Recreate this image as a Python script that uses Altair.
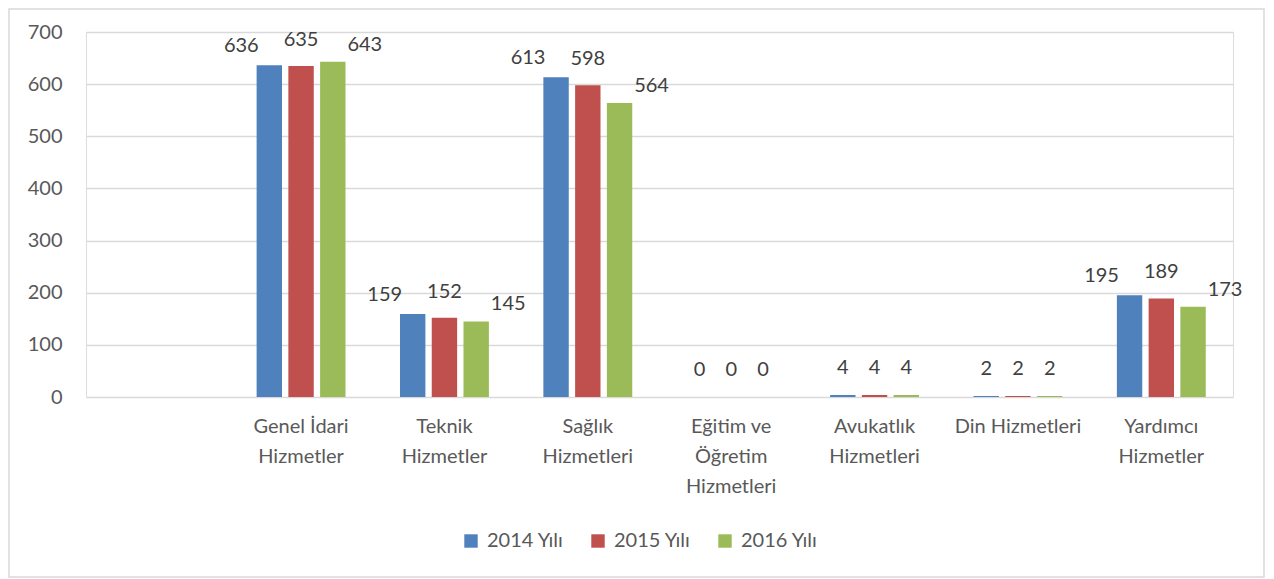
import altair as alt
import pandas as pd

categories = ["", "Genel İdari Hizmetler", "Teknik Hizmetler", "Sağlık Hizmetleri",
              "Eğitim ve Öğretim Hizmetleri", "Avukatlık Hizmetleri", "Din Hizmetleri",
              "Yardımcı Hizmetler"]
label_lines = {
    "Genel İdari Hizmetler": ["Genel İdari", "Hizmetler"],
    "Teknik Hizmetler": ["Teknik", "Hizmetler"],
    "Sağlık Hizmetleri": ["Sağlık", "Hizmetleri"],
    "Eğitim ve Öğretim Hizmetleri": ["Eğitim ve", "Öğretim", "Hizmetleri"],
    "Avukatlık Hizmetleri": ["Avukatlık", "Hizmetleri"],
    "Din Hizmetleri": ["Din Hizmetleri"],
    "Yardımcı Hizmetler": ["Yardımcı", "Hizmetler"],
}
series = ["2014 Yılı", "2015 Yılı", "2016 Yılı"]
values_2014 = [636, 159, 613, 0, 4, 2, 195]
values_2015 = [635, 152, 598, 0, 4, 2, 189]
values_2016 = [643, 145, 564, 0, 4, 2, 173]
colors = ["#4F81BD", "#C0504D", "#9BBB59"]

rows = []
for s, vals in zip(series, [values_2014, values_2015, values_2016]):
    for c, v in zip(categories[1:], vals):
        rows.append({"kategori": c, "seri": s, "deger": v})
df = pd.DataFrame(rows)

# label expression for multi-line axis labels
expr = "''"
for k, lines in reversed(list(label_lines.items())):
    arr = "[" + ",".join("'" + l + "'" for l in lines) + "]"
    expr = f"datum.value === '{k}' ? {arr} : ({expr})"

FONT = "Lato"
FS = 20
W, H = 1147, 365

x_enc = alt.X("kategori:N", scale=alt.Scale(domain=categories, paddingInner=0.38, paddingOuter=0.19),
              axis=alt.Axis(title=None, labelExpr=expr, labelAngle=0, labelFontSize=FS,
                            labelColor="#595959", labelFont=FONT, labelLineHeight=30,
                            labelPadding=19, ticks=False, domain=False, grid=False,
                            labelBaseline="top"))
xoff = alt.XOffset("seri:N", scale=alt.Scale(domain=series, paddingInner=0.2))
y_enc = alt.Y("deger:Q", scale=alt.Scale(domain=[0, 700]),
              axis=alt.Axis(title=None, values=[0, 100, 200, 300, 400, 500, 600, 700],
                            labelFontSize=FS, labelColor="#595959", labelFont=FONT,
                            labelPadding=24, ticks=False, domain=False, grid=True,
                            gridColor="#D9D9D9", gridWidth=1.5))

base = alt.Chart(df)

bars = base.mark_bar().encode(
    x=x_enc, xOffset=xoff, y=y_enc,
    color=alt.Color("seri:N", scale=alt.Scale(domain=series, range=colors),
                    legend=alt.Legend(title=None, orient="none", direction="horizontal",
                                      legendX=375, legendY=499, symbolType="square",
                                      symbolSize=180, labelFontSize=FS, labelColor="#595959",
                                      labelFont=FONT, columnPadding=24, symbolStrokeWidth=0,
                                      labelOffset=6)),
)

text_layers = []
for s, dx, dy in zip(series, [-28, 0, 32], [-19, -26, -17]):
    text_layers.append(
        base.transform_filter((alt.datum.seri == s) & (alt.datum.deger >= 50)).mark_text(
            fontSize=FS, font=FONT, color="#404040", baseline="middle", dx=dx, dy=dy
        ).encode(x=x_enc, xOffset=xoff, y=y_enc, text="deger:Q")
    )
text_layers.append(
    base.transform_filter(alt.datum.deger < 50).mark_text(
        fontSize=FS, font=FONT, color="#404040", baseline="middle", dy=-27
    ).encode(x=x_enc, xOffset=xoff, y=y_enc, text="deger:Q")
)

border = alt.Chart(alt.Data(values=[{}])).mark_rect(
    fill=None, stroke="#D9D9D9", strokeWidth=1.5
).encode(x=alt.value(-77), x2=alt.value(W + 31), y=alt.value(-23), y2=alt.value(H + 180))

chart = alt.layer(border, bars, *text_layers).properties(
    width=W, height=H,
    padding={"left": 78, "top": 24, "right": 33, "bottom": 182},
    autosize=alt.AutoSizeParams(type="none"),
).configure_view(stroke=None).configure(background="white")

chart.save("out.html", embed_options={"renderer": "svg", "actions": False})
